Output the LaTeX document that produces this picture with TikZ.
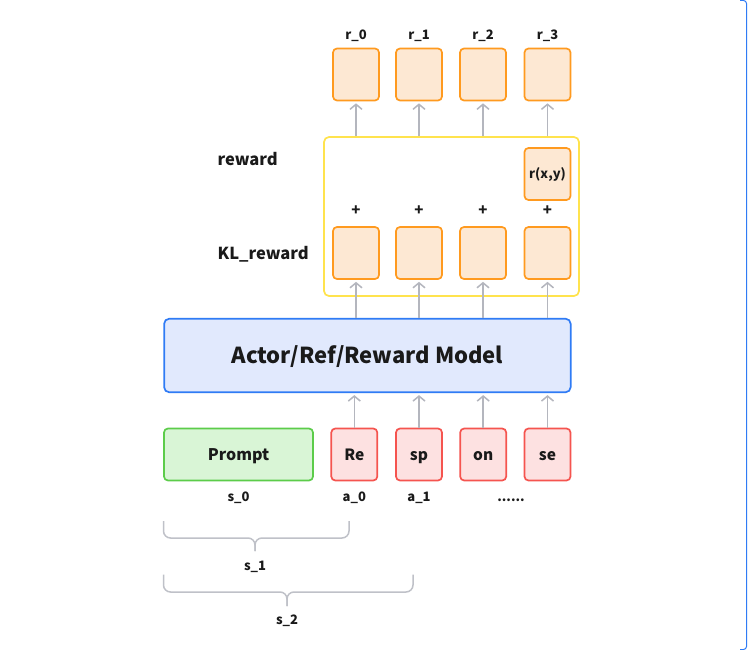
\documentclass[tikz,border=0pt]{standalone}
\usepackage{fontspec}
\setmainfont{Noto Sans CJK SC}
\usetikzlibrary{arrows.meta}
\definecolor{orfill}{HTML}{FDE8D3}
\definecolor{ordraw}{HTML}{FF9A1F}
\definecolor{yedraw}{HTML}{FFE34D}
\definecolor{blfill}{HTML}{E1E9FD}
\definecolor{bldraw}{HTML}{2F7BF5}
\definecolor{grfill}{HTML}{D9F5D6}
\definecolor{grdraw}{HTML}{5CCC4A}
\definecolor{rdfill}{HTML}{FDE1E1}
\definecolor{rddraw}{HTML}{F5544F}
\definecolor{arrcol}{HTML}{B4B6BE}
\definecolor{txt}{HTML}{1A1A1A}
\tikzset{
  obox/.style={draw=ordraw, fill=orfill, line width=1.7pt, rounded corners=4pt, minimum width=46pt, minimum height=52pt, inner sep=0pt, text=txt},
  tbox/.style={draw=rddraw, fill=rdfill, line width=1.7pt, rounded corners=4pt, minimum width=46pt, minimum height=52pt, inner sep=0pt, font=\bfseries\fontsize{15.5}{18}\selectfont, text=txt, text height=11.2pt, text depth=0pt},
  lab/.style={font=\bfseries\fontsize{13}{15}\selectfont, text=txt, inner sep=0pt, text height=9.4pt, text depth=0pt},
  biglab/.style={font=\bfseries\fontsize{16.5}{19}\selectfont, text=txt, inner sep=0pt, anchor=west, text height=11.9pt, text depth=0pt},
  plab/.style={font=\bfseries\fontsize{15}{17}\selectfont, text=txt, inner sep=0pt, text height=8.5pt, text depth=0pt},
  arr/.style={draw=arrcol, line width=1.5pt, -{Straight Barb[length=5pt,width=12pt,line width=1.5pt]}, shorten >=2pt},
  brc/.style={draw=arrcol!85, line width=1.5pt, rounded corners=7pt},
}
\begin{document}
\begin{tikzpicture}[x=1pt,y=-1pt]
\useasboundingbox (0,0) rectangle (748,650);
\fill[white] (0,0) rectangle (748,650);
\draw[bldraw, line width=1pt, rounded corners=3pt] (740,0.5) -- (746.5,0.5) -- (746.5,649.5) -- (740,649.5);

% yellow container
\node[draw=yedraw, fill=white, line width=1.7pt, rounded corners=5pt, minimum width=255pt, minimum height=159pt, inner sep=0pt] (yel) at (451.5,216.5) {};

% top reward boxes
\foreach \i/\x in {0/356,1/419,2/483,3/547.5}{
  \node[obox] (r\i) at (\x,74.5) {};
  \node[lab] (rl\i) at (\x,35) {r\_\i};
  \node[obox] (k\i) at (\x,253) {};
  \node[plab] (p\i) at (\x,211) {+};
}
\node[obox, font=\bfseries\fontsize{13}{15}\selectfont, text height=9.4pt, text depth=0pt] (rxy) at (547.5,174) {r(x,y)};

\node[biglab] (lrew) at (217.5,160) {reward};
\node[biglab] (lkl) at (217.5,254) {KL\_reward};

% model
\node[draw=bldraw, fill=blfill, line width=1.7pt, rounded corners=5pt, minimum width=406.5pt, minimum height=73.5pt, inner sep=0pt, font=\bfseries\fontsize{22}{26}\selectfont, text=txt, text height=15.8pt, text depth=0pt] (model) at (367.4,355.5) {Actor/Ref/Reward Model};

% inputs
\node[draw=grdraw, fill=grfill, line width=1.7pt, rounded corners=4pt, minimum width=149pt, minimum height=52pt, inner sep=0pt, font=\bfseries\fontsize{16}{19}\selectfont, text=txt, text height=11.5pt, text depth=0pt] (prompt) at (238.5,454.5) {Prompt};
\node[tbox] (t0) at (354.3,454.5) {Re};
\node[tbox] (t1) at (419,454.5) {sp};
\node[tbox] (t2) at (483.2,454.5) {on};
\node[tbox] (t3) at (547.5,454.5) {se};

\node[lab] (s0) at (238.5,497) {s\_0};
\node[lab] (a0) at (354.3,497) {a\_0};
\node[lab] (a1) at (419,497) {a\_1};
\node[lab] (dots) at (511,497) {......};

% arrows
\foreach \i in {0,1,2,3}{
  \draw[arr] (t\i.north) -- (t\i.north |- model.south);
  \draw[arr] (model.north -| k\i) -- (k\i.south);
  \draw[arr] (yel.north -| r\i) -- (r\i.south);
}

% braces
\coordinate (b1l) at (163.5,521);
\coordinate (b1r) at (349,521);
\coordinate (b1m) at (255,551);
\draw[brc] (b1l) -- (163.5,538) -- (255,538) -- (b1m);
\draw[brc] (b1r) -- (349,538) -- (255,538) -- (b1m);
\node[lab] (s1) at (255,566) {s\_1};

\coordinate (b2l) at (163.5,574.5);
\coordinate (b2r) at (413,574.5);
\coordinate (b2m) at (287,606);
\draw[brc] (b2l) -- (163.5,592) -- (287,592) -- (b2m);
\draw[brc] (b2r) -- (413,592) -- (287,592) -- (b2m);
\node[lab] (s2) at (287,620) {s\_2};
\end{tikzpicture}
\end{document}
